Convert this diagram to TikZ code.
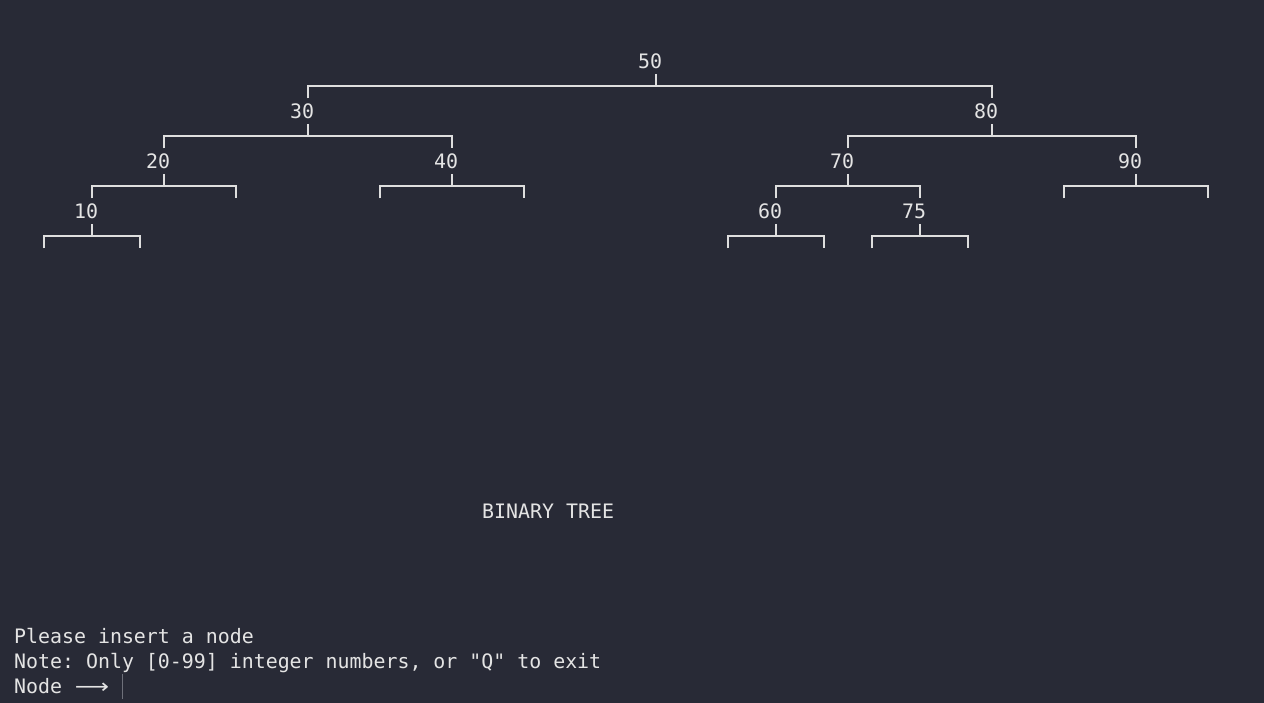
\documentclass[tikz,border=0pt]{standalone}
\usepackage{fontspec}
\setmonofont{DejaVu Sans Mono}
\newfontfamily\arrowfont{DejaVu Sans}
\usetikzlibrary{calc}
\definecolor{termbg}{RGB}{40,42,54}
\definecolor{termfg}{RGB}{228,228,228}
\definecolor{termline}{RGB}{222,222,222}
\definecolor{cursorc}{RGB}{110,112,122}
\tikzset{
  lbl/.style={inner sep=0pt, text=termfg, font=\ttfamily\fontsize{19.9pt}{25pt}\selectfont},
  conn/.style={draw=termline, line width=1.7pt},
}
\begin{document}
\begin{tikzpicture}[x=1pt,y=-1pt]
\fill[termbg] (0,0) rectangle (1264,703);
\useasboundingbox (0,0) rectangle (1264,703);
% tree nodes
\node[lbl,anchor=base] (n50) at (650,69) {50};
\node[lbl,anchor=base] (n30) at (302,119) {30};
\node[lbl,anchor=base] (n80) at (986,119) {80};
\node[lbl,anchor=base] (n20) at (158,169) {20};
\node[lbl,anchor=base] (n40) at (446,169) {40};
\node[lbl,anchor=base] (n70) at (842,169) {70};
\node[lbl,anchor=base] (n90) at (1130,169) {90};
\node[lbl,anchor=base] (n10) at (86,219) {10};
\node[lbl,anchor=base] (n60) at (770,219) {60};
\node[lbl,anchor=base] (n75) at (914,219) {75};
% empty child ends
\coordinate (e10l) at (44,248.5);  \coordinate (e10r) at (140,248.5);
\coordinate (e20r) at (236,198.5);
\coordinate (e40l) at (380,198.5); \coordinate (e40r) at (524,198.5);
\coordinate (e90l) at (1064,198.5);\coordinate (e90r) at (1208,198.5);
\coordinate (e60l) at (728,248.5); \coordinate (e60r) at (824,248.5);
\coordinate (e75l) at (872,248.5); \coordinate (e75r) at (968,248.5);
% connectors: parent ticks
\foreach \p in {n50,n30,n80,n20,n40,n70,n90,n10,n60,n75}
  \draw[conn] ($(\p.base)+(6,5)$) -- ($(\p.base)+(6,17.5)$);
% brackets to children
\draw[conn] ($(n30.base)+(6,-20.5)$) -- ($(n30.base)+(6,-33)$) -- ($(n80.base)+(6,-33)$) -- ($(n80.base)+(6,-20.5)$);
\draw[conn] ($(n20.base)+(6,-20.5)$) -- ($(n20.base)+(6,-33)$) -- ($(n40.base)+(6,-33)$) -- ($(n40.base)+(6,-20.5)$);
\draw[conn] ($(n70.base)+(6,-20.5)$) -- ($(n70.base)+(6,-33)$) -- ($(n90.base)+(6,-33)$) -- ($(n90.base)+(6,-20.5)$);
\draw[conn] ($(n10.base)+(6,-20.5)$) -- ($(n10.base)+(6,-33)$) -- (e20r |- {$(n10.base)+(6,-33)$}) -- (e20r);
\draw[conn] (e40l) -- ++(0,-12.5) -| (e40r);
\draw[conn] (e90l) -- ++(0,-12.5) -| (e90r);
\draw[conn] ($(n60.base)+(6,-20.5)$) -- ($(n60.base)+(6,-33)$) -- ($(n75.base)+(6,-33)$) -- ($(n75.base)+(6,-20.5)$);
\draw[conn] (e10l) -- ++(0,-12.5) -| (e10r);
\draw[conn] (e60l) -- ++(0,-12.5) -| (e60r);
\draw[conn] (e75l) -- ++(0,-12.5) -| (e75r);
% title and prompt
\node[lbl,anchor=base west] (title) at (482,518) {BINARY TREE};
\node[lbl,anchor=base west] (l1) at (14,643) {Please insert a node};
\node[lbl,anchor=base west] (l2) at (14,668) {Note: Only [0-99] integer numbers, or "Q" to exit};
\node[lbl,anchor=base west] (l3) at (14,693) {Node};
\node[lbl,anchor=base,font=\arrowfont\fontsize{19.9pt}{25pt}\selectfont] (arr) at (92,693) {\scalebox{1.2}[1]{⟶}};
\draw[cursorc, line width=1pt] (122.5,674) -- (122.5,699);
\end{tikzpicture}
\end{document}
